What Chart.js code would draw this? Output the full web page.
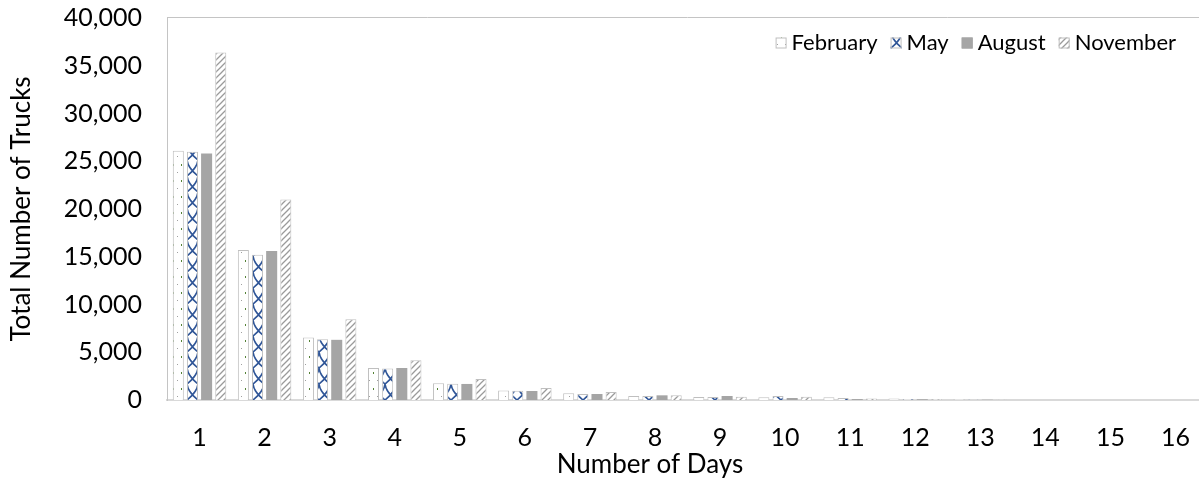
<!DOCTYPE html>
<html>
<head>
<meta charset="utf-8">
<script src="https://cdn.jsdelivr.net/npm/chart.js@4/dist/chart.umd.min.js"></script>
<style>
    html, body { margin: 0; padding: 0; background: #fff; overflow: hidden; }
    #chart-wrap { width: 1210px; height: 479px; }
</style>
</head>
<body>
<div id="chart-wrap"><canvas id="trucks-chart" width="1210" height="479"></canvas></div>
<script>
// trucks chart - distribution of stay length per month

// Data
const dayLabels = ["1", "2", "3", "4", "5", "6", "7", "8", "9", "10", "11", "12", "13", "14", "15", "16"];
const februaryTrucks = [26100, 15700, 6550, 3350, 1750, 1000, 700, 420, 310, 280, 280, 170, 100, 0, 0, 0];
const mayTrucks = [26000, 15200, 6350, 3300, 1700, 970, 630, 420, 310, 420, 210, 100, 50, 0, 0, 0];
const augustTrucks = [25800, 15600, 6300, 3350, 1680, 940, 630, 490, 420, 210, 100, 80, 30, 0, 0, 0];
const novemberTrucks = [36400, 21000, 8450, 4150, 2200, 1250, 840, 490, 350, 350, 150, 80, 30, 0, 0, 0];
const yTicks = [0, 5000, 10000, 15000, 20000, 25000, 30000, 35000, 40000];
const xTitle = "Number of Days";
const yTitle = "Total Number of Trucks";

// DOM Elements
const canvas = document.getElementById("trucks-chart");
const ctx = canvas.getContext("2d");

// Style
const fontFamily = "Lato, 'Open Sans', sans-serif";
const tickSize = 25;
const titleSize = 26;
const legendSize = 22;
const frameColor = "#c4c4c4";
const barEdge = "#bfbfbf";

// Fill patterns (Excel-like)
function makePattern(w, h, draw) {
    const tile = document.createElement("canvas");
    tile.width = w;
    tile.height = h;
    const g = tile.getContext("2d");
    g.fillStyle = "#ffffff";
    g.fillRect(0, 0, w, h);
    draw(g);
    return ctx.createPattern(tile, "repeat");
}

const dotsPattern = makePattern(8, 16, (g) => {
    g.fillStyle = "#548235";
    g.fillRect(5, 4, 1, 2);
    g.fillStyle = "#a0a0a0";
    g.fillRect(1, 12, 1, 1);
});

const latticePattern = makePattern(11, 16, (g) => {
    g.strokeStyle = "#2f5597";
    g.lineWidth = 1.6;
    g.beginPath();
    g.moveTo(0, 0);
    g.quadraticCurveTo(1, 8, 11, 16);
    g.moveTo(11, 0);
    g.quadraticCurveTo(10, 8, 0, 16);
    g.stroke();
});

const hatchPattern = makePattern(6, 6, (g) => {
    g.strokeStyle = "#9a9a9a";
    g.lineWidth = 1.3;
    g.beginPath();
    g.moveTo(-1, 7);
    g.lineTo(7, -1);
    g.moveTo(-1, 1);
    g.lineTo(1, -1);
    g.moveTo(5, 7);
    g.lineTo(7, 5);
    g.stroke();
});

// Plot frame (top edge of the plot area box)
const plotFrame = {
    id: "plotFrame",
    beforeDatasetsDraw(chart) {
        const { left, right, top } = chart.chartArea;
        const c = chart.ctx;
        c.save();
        c.strokeStyle = frameColor;
        c.lineWidth = 1;
        c.beginPath();
        c.moveTo(left, top - 0.5);
        c.lineTo(right, top - 0.5);
        c.stroke();
        c.restore();
    },
};

// X title sits left of the axis centre in the original
const xTitlePlugin = {
    id: "xTitlePlugin",
    afterDraw(chart) {
        const c = chart.ctx;
        c.save();
        c.font = `${titleSize}px ${fontFamily}`;
        c.fillStyle = "#000";
        c.textAlign = "center";
        c.textBaseline = "middle";
        c.fillText(xTitle, 650, 465);
        c.restore();
    },
};

// Legend drawn inside the plot area, top right
const insideLegend = {
    id: "insideLegend",
    afterDraw(chart) {
        const c = chart.ctx;
        const legendY = 43;
        const box = 11;
        let x = 1176;
        c.save();
        c.font = `${legendSize}px ${fontFamily}`;
        c.textBaseline = "middle";
        c.textAlign = "left";
        chart.data.datasets.slice().reverse().forEach((ds) => {
            const w = c.measureText(ds.label).width;
            x -= w;
            c.fillStyle = "#000";
            c.fillText(ds.label, x, legendY);
            x -= 5 + box;
            c.fillStyle = ds.backgroundColor;
            c.fillRect(x, legendY - box / 2, box, box);
            c.strokeStyle = ds.borderWidth ? barEdge : ds.backgroundColor;
            c.lineWidth = 1;
            c.strokeRect(x + 0.5, legendY - box / 2 + 0.5, box - 1, box - 1);
            x -= 13;
        });
        c.restore();
    },
};

// Render Chart
const trucksChart = new Chart(ctx, {
    type: "bar",
    data: {
        labels: dayLabels,
        datasets: [
            {
                label: "February",
                data: februaryTrucks,
                backgroundColor: dotsPattern,
                borderColor: barEdge,
                borderWidth: 1,
            },
            {
                label: "May",
                data: mayTrucks,
                backgroundColor: latticePattern,
                borderColor: barEdge,
                borderWidth: 1,
            },
            {
                label: "August",
                data: augustTrucks,
                backgroundColor: "#a5a5a5",
                borderWidth: 0,
            },
            {
                label: "November",
                data: novemberTrucks,
                backgroundColor: hatchPattern,
                borderColor: barEdge,
                borderWidth: 1,
            },
        ],
    },
    options: {
        responsive: false,
        animation: false,
        devicePixelRatio: 1,
        categoryPercentage: 0.87,
        barPercentage: 0.78,
        layout: { padding: { top: 18, right: 2, left: 0, bottom: 0 } },
        plugins: {
            legend: { display: false },
            tooltip: { enabled: false },
        },
        scales: {
            x: {
                grid: { display: false, drawTicks: false },
                border: { display: true, color: "#d9d9d9", width: 2 },
                ticks: {
                    color: "#000",
                    font: { family: fontFamily, size: tickSize },
                    padding: 23,
                    maxRotation: 0,
                },
                afterFit: (scale) => {
                    scale.height = 79;
                    scale.paddingLeft = 0;
                    scale.paddingRight = 0;
                },
            },
            y: {
                min: 0,
                max: 40000,
                grid: { display: false, drawTicks: false },
                border: { display: true, color: frameColor, width: 1 },
                afterBuildTicks: (scale) => { scale.ticks = yTicks.map((v) => ({ value: v })); },
                ticks: {
                    color: "#000",
                    font: { family: fontFamily, size: tickSize },
                    padding: 25,
                    callback: (v) => v.toLocaleString("en-US"),
                },
                title: {
                    display: true,
                    text: yTitle,
                    color: "#000",
                    font: { family: fontFamily, size: titleSize },
                    padding: { top: 6, bottom: 0 },
                },
                afterFit: (scale) => {
                    scale.width = 167;
                    scale.paddingTop = 0;
                    scale.paddingBottom = 0;
                },
            },
        },
    },
    plugins: [plotFrame, xTitlePlugin, insideLegend],
});
</script>
</body>
</html>
